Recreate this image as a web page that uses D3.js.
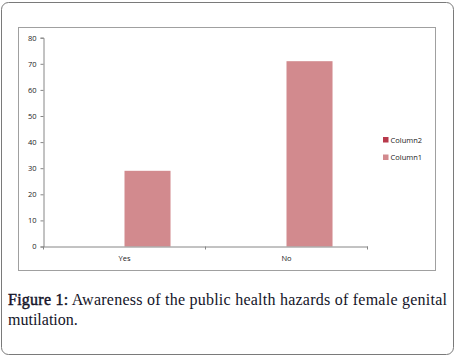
<!DOCTYPE html>
<html>
<head>
<meta charset="utf-8">
<script src="https://cdn.jsdelivr.net/npm/d3@7"></script>
<style>
  body { margin: 0; background: #fff; }
  svg { display: block; }
</style>
</head>
<body>
<div id="chart"></div>
<script>
// Data from the chart
const categories = ["Yes", "No"];
const seriesNames = ["Column2", "Column1"];
const column1 = [29, 71];
const column2 = [0, 0];
const yTicks = [0, 10, 20, 30, 40, 50, 60, 70, 80];
const legendOrder = ["Column2", "Column1"];

const W = 455, H = 356;
const plot = { left: 43.5, right: 367.5, top: 37.7, bottom: 246.5 };

const svg = d3.select("#chart")
    .append("svg")
    .attr("width", W)
    .attr("height", H);

// outer figure box
svg.append("rect")
    .attr("x", 1.5).attr("y", 2.5)
    .attr("width", 452).attr("height", 352)
    .attr("rx", 7)
    .attr("fill", "none")
    .attr("stroke", "#7a7a7a");

// chart frame
svg.append("rect")
    .attr("x", 18.5).attr("y", 27.5)
    .attr("width", 417).attr("height", 243)
    .attr("fill", "none")
    .attr("stroke", "#a0a0a0");

const rows = categories.map((c, i) => ({ cat: c, Column1: column1[i], Column2: column2[i] }));

// scales
const x0 = d3.scaleBand()
    .domain(categories)
    .range([plot.left, plot.right])
    .padding(0);

const x1 = d3.scaleBand()
    .domain(seriesNames)
    .range([0, x0.bandwidth()])
    .paddingInner(0)
    .paddingOuter(0.76);

const y = d3.scaleLinear()
    .domain([0, 80])
    .range([plot.bottom, plot.top]);

const color = d3.scaleOrdinal()
    .domain(seriesNames)
    .range(["#b8394b", "#d28a8e"]);

// bars
const groups = svg.selectAll("g.bar-group")
    .data(rows)
    .join("g")
    .attr("class", "bar-group")
    .attr("transform", d => `translate(${x0(d.cat)},0)`);

groups.selectAll("rect")
    .data(d => seriesNames.map(s => ({ s, v: d[s] })))
    .join("rect")
    .attr("x", d => x1(d.s))
    .attr("y", d => y(d.v))
    .attr("width", x1.bandwidth())
    .attr("height", d => y(0) - y(d.v))
    .attr("fill", d => color(d.s));

const tickFont = "'Open Sans', 'DejaVu Sans', sans-serif";

// y axis
const yAxis = svg.append("g")
    .attr("transform", `translate(${plot.left},0)`)
    .call(d3.axisLeft(y).tickValues(yTicks).tickSize(3).tickPadding(4));
yAxis.select(".domain").attr("stroke", "#868686");
yAxis.selectAll(".tick line").attr("stroke", "#868686");
yAxis.selectAll("text")
    .style("font-family", tickFont)
    .style("font-size", "7.5px")
    .attr("fill", "#222");

// x axis
const xAxis = svg.append("g")
    .attr("transform", `translate(0,${y(0)})`)
    .call(d3.axisBottom(x0).tickSize(0).tickPadding(9));
xAxis.select(".domain").attr("stroke", "#868686");
xAxis.selectAll("text")
    .style("font-family", tickFont)
    .style("font-size", "7.5px")
    .attr("fill", "#222");

const bounds = categories.map(c => x0(c)).concat([x0(categories[categories.length - 1]) + x0.bandwidth()]);
xAxis.selectAll("line.bound")
    .data(bounds)
    .join("line")
    .attr("class", "bound")
    .attr("x1", d => d).attr("x2", d => d)
    .attr("y1", 0).attr("y2", 3)
    .attr("stroke", "#868686");

// legend
const legend = svg.append("g")
    .attr("transform", "translate(383,137)");

legendOrder.forEach((s, i) => {
    const row = legend.append("g")
        .attr("transform", `translate(0, ${i * 17.5})`);
    row.append("rect")
        .attr("width", 5.5)
        .attr("height", 5.5)
        .attr("fill", color(s));
    row.append("text")
        .attr("x", 7.5)
        .attr("y", 5.5)
        .text(s)
        .style("font-family", tickFont)
        .style("font-size", "7.5px")
        .attr("fill", "#222");
});

// caption
const capFont = "'Liberation Serif', 'DejaVu Serif', serif";
const line1 = svg.append("text")
    .attr("x", 8)
    .attr("y", 305)
    .attr("textLength", 439)
    .attr("lengthAdjust", "spacing")
    .style("font-family", capFont)
    .style("font-size", "16px")
    .attr("fill", "#141428");
line1.append("tspan")
    .attr("stroke", "#141428")
    .attr("stroke-width", 0.45)
    .text("Figure 1:");
line1.append("tspan").text(" Awareness of the public health hazards of female genital");

svg.append("text")
    .attr("x", 8)
    .attr("y", 325)
    .style("font-family", capFont)
    .style("font-size", "16px")
    .attr("fill", "#141428")
    .text("mutilation.");
</script>
</body>
</html>
